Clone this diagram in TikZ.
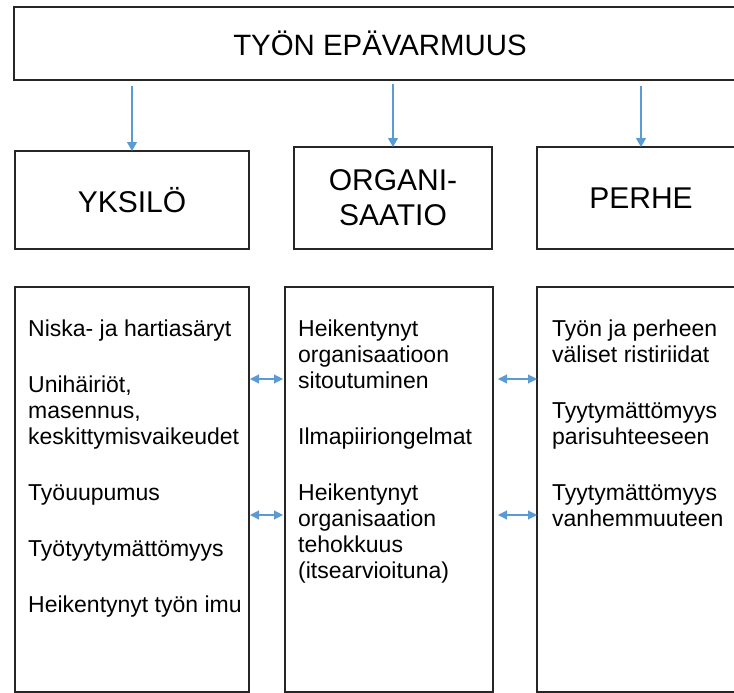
\documentclass[tikz,border=0pt]{standalone}
\usepackage{fontspec}
\setmainfont{Liberation Sans}
\usetikzlibrary{arrows.meta}

\begin{document}
\begin{tikzpicture}[x=1pt,y=-1pt,
  box/.style={draw=black!85,line width=1.2pt,inner sep=0pt,outer sep=0pt},
  otsikko/.style={font=\fontsize{29.4}{35}\selectfont},
  ryhma/.style={font=\fontsize{30}{35}\selectfont,align=center},
  lista/.style={font=\fontsize{23}{26}\selectfont,align=left,anchor=north west,inner sep=0pt},
  flow/.style={draw={rgb,255:red,91;green,155;blue,213},line width=1.1pt,-{Triangle[width=10pt,length=9pt]}},
  link/.style={draw={rgb,255:red,91;green,155;blue,213},line width=1.1pt,{Triangle[width=9pt,length=9pt]}-{Triangle[width=9pt,length=9pt]}}]
\useasboundingbox (0,0) rectangle (734,693);
\clip (0,0) rectangle (734,693);
\tikzstyle{every node}+=[inner sep=0pt]
% ylin laatikko
\node [box,otsikko,minimum width=732pt,minimum height=73pt] (tyon) at (380,43.5) {TYÖN EPÄVARMUUS};
% kolme tasoa
\node [box,ryhma,minimum width=234pt,minimum height=98pt] (yksilo) at (132,200) {YKSILÖ};
\node [box,ryhma,minimum width=198pt,minimum height=102pt] (org) at (393,198) {ORGANI-\\SAATIO};
\node [box,ryhma,minimum width=208pt,minimum height=102pt] (perhe) at (641,198) {PERHE};
\draw [flow,shorten <=6pt] (tyon.south -| yksilo.north) -- (yksilo.north);
\draw [flow,shorten <=4pt] (tyon.south -| org.north) -- (org.north);
\draw [flow,shorten <=6pt] (tyon.south -| perhe.north) -- (perhe.north);
% seuraukset
\node [box,minimum width=234pt,minimum height=405pt] (yksiloseur) at (132,489.5) {};
\node [box,minimum width=208pt,minimum height=405pt] (orgseur) at (389,489.5) {};
\node [box,minimum width=208pt,minimum height=405pt] (perheseur) at (641,489.5) {};
\node [lista] (yksiloteksti) at (28,318) {\strut Niska- ja hartiasäryt\\[30pt]
  Unihäiriöt,\\masennus,\\keskittymisvaikeudet\\[30pt]
  Työuupumus\\[30pt]Työtyytymättömyys\\[30pt]Heikentynyt työn imu};
\node [lista] (orgteksti) at (298,318) {\strut Heikentynyt\\organisaatioon\\sitoutuminen\\[30pt]
  Ilmapiiriongelmat\\[30pt]
  Heikentynyt\\organisaation\\tehokkuus\\(itsearvioituna)};
\node [lista] (perheteksti) at (552,318) {\strut Työn ja perheen\\väliset ristiriidat\\[30pt]
  Tyytymättömyys\\parisuhteeseen\\[30pt]
  Tyytymättömyys\\vanhemmuuteen};
% yhteydet
\coordinate (rivi1) at (0,379);
\coordinate (rivi2) at (0,515);
\draw [link,shorten <=1pt,shorten >=2pt] (yksiloseur.east |- rivi1) -- (orgseur.west |- rivi1);
\draw [link,shorten <=1pt,shorten >=2pt] (yksiloseur.east |- rivi2) -- (orgseur.west |- rivi2);
\draw [link,shorten <=5pt] (orgseur.east |- rivi1) -- (perheseur.west |- rivi1);
\draw [link,shorten <=5pt] (orgseur.east |- rivi2) -- (perheseur.west |- rivi2);
\end{tikzpicture}
\end{document}
